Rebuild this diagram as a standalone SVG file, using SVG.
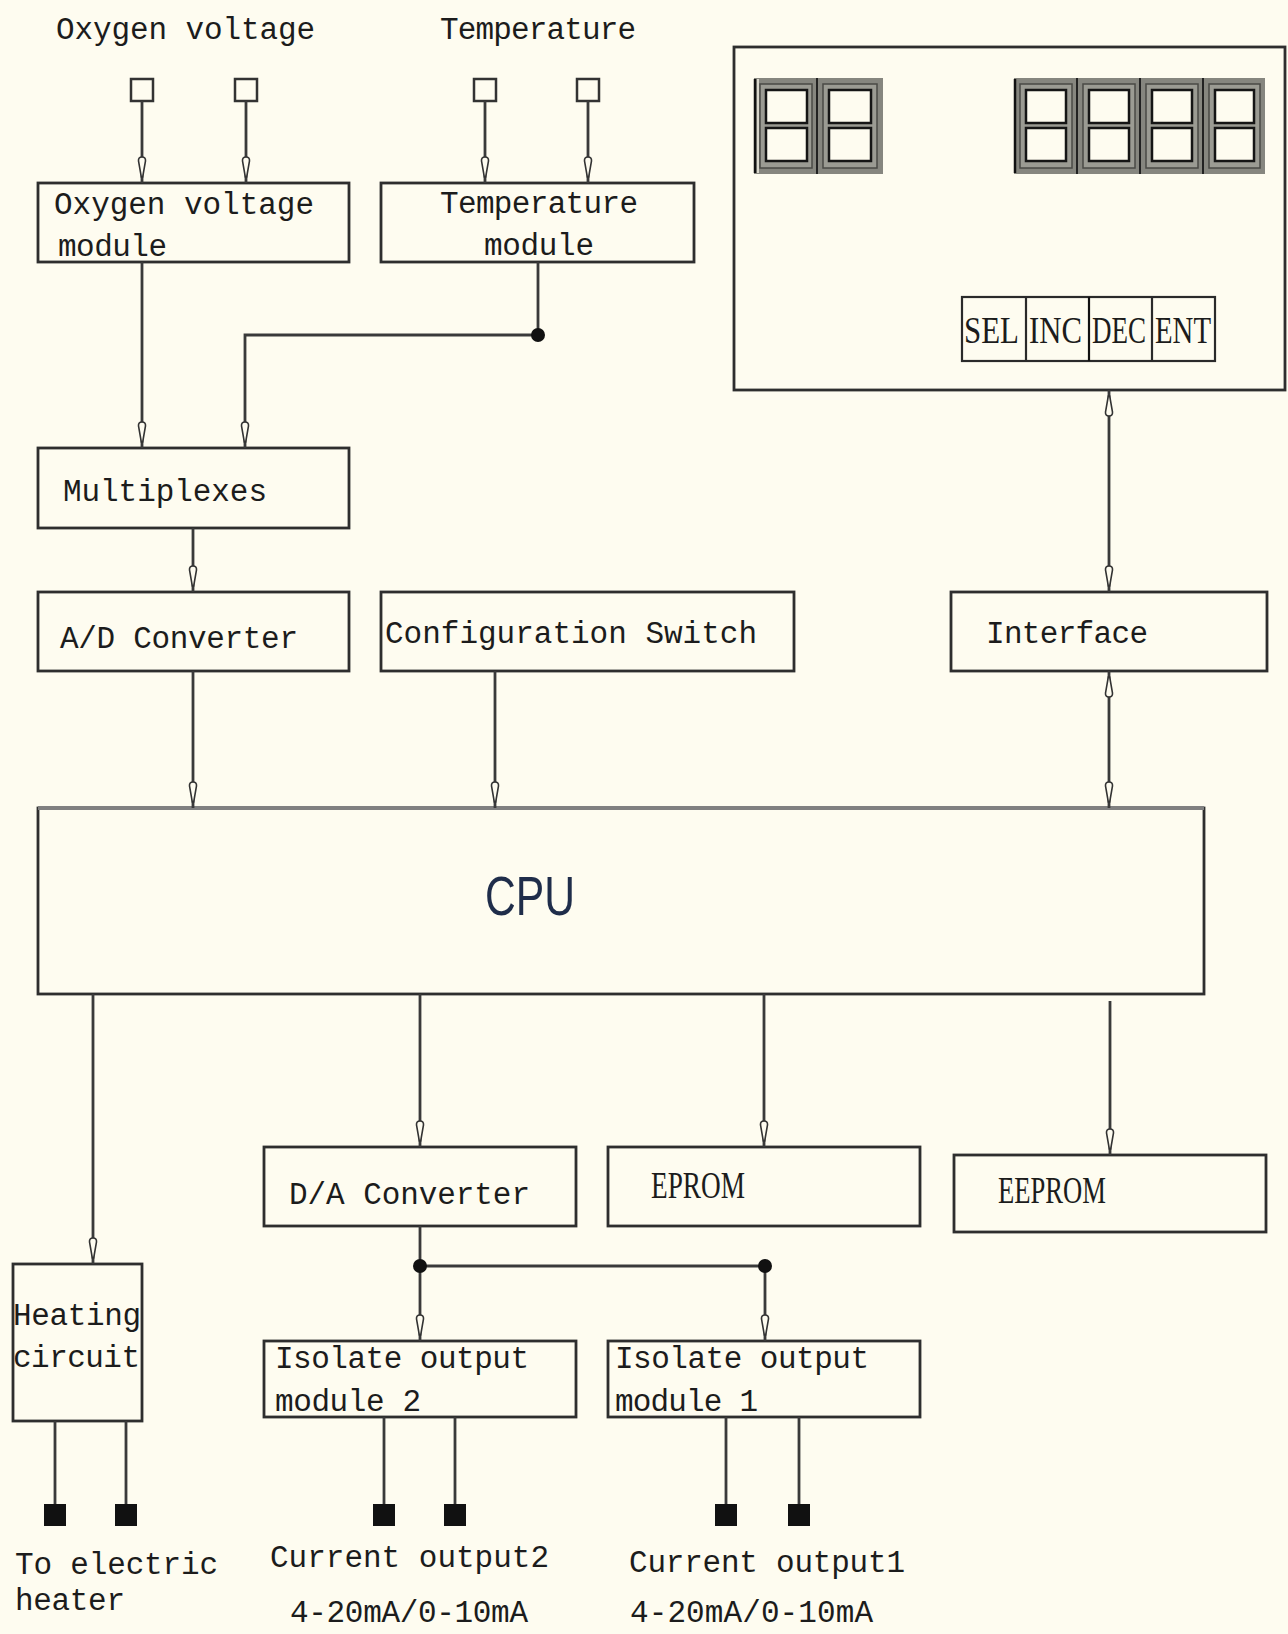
<svg xmlns="http://www.w3.org/2000/svg" width="1288" height="1634" viewBox="0 0 1288 1634">
<defs>
<style>
.bg{fill:#fefcf0}
.box{fill:none;stroke:#2e2e2e;stroke-width:2.8}
.t{font-family:"Liberation Mono","DejaVu Sans Mono",monospace;font-size:31px;fill:#1c1c1c}
.s{font-family:"Liberation Serif","DejaVu Serif",serif;font-size:38px;fill:#1c1c1c}
.b{font-family:"Liberation Serif","DejaVu Serif",serif;font-size:27px;fill:#1c1c1c}
.ln{fill:none;stroke:#3a3a3a;stroke-width:2.8}
.ln2{fill:none;stroke:#3a3a3a;stroke-width:2.8;marker-end:url(#arr)}
.bi{fill:none;stroke:#3a3a3a;stroke-width:2.8;marker-end:url(#arr);marker-start:url(#arr)}
.dot{fill:#111}
.tin{fill:#fefcf0;stroke:#333;stroke-width:2.5}
.tout{fill:#111}
.cell{fill:#86867f}
.bev{fill:#9b9b93;stroke:#4a4a46;stroke-width:1.5}
.pane{fill:#fefcf0;stroke:#151515;stroke-width:2.5}
</style>
<marker id="arr" viewBox="0 0 30 10" markerWidth="30" markerHeight="10" refX="29" refY="5" orient="auto-start-reverse" markerUnits="userSpaceOnUse">
<path d="M3,5 Q3,1.2 7,1.5 L23,4.3 L23,5.7 L7,8.5 Q3,8.8 3,5 Z" fill="#fefcf0" stroke="#333" stroke-width="1.6"/>
</marker>
</defs>
<rect class="bg" x="0" y="0" width="1288" height="1634"/>

<g id="labels-top">
<text class="t" x="56" y="39" textLength="259" lengthAdjust="spacing">Oxygen voltage</text>
<text class="t" x="440" y="39" textLength="196" lengthAdjust="spacing">Temperature</text>
</g>

<g id="terminals-in">
<rect class="tin" x="131" y="79" width="22" height="22"/>
<rect class="tin" x="235" y="79" width="22" height="22"/>
<rect class="tin" x="474" y="79" width="22" height="22"/>
<rect class="tin" x="577" y="79" width="22" height="22"/>
</g>

<g id="oxygen-module">
<rect class="box" x="38" y="183" width="311" height="79"/>
<text class="t" x="54" y="214" textLength="260" lengthAdjust="spacing">Oxygen voltage</text>
<text class="t" x="58" y="256" textLength="109" lengthAdjust="spacing">module</text>
</g>

<g id="temperature-module">
<rect class="box" x="381" y="183" width="313" height="79"/>
<text class="t" x="440" y="213" textLength="198" lengthAdjust="spacing">Temperature</text>
<text class="t" x="484" y="255" textLength="110" lengthAdjust="spacing">module</text>
</g>

<g id="display-panel">
<rect class="box" x="734" y="47" width="551" height="343"/>
<g id="digits-left">
<rect class="cell" x="754" y="78" width="129" height="96"/>
<line x1="755" y1="79" x2="755" y2="173" stroke="#111" stroke-width="2.5"/>
<line x1="758" y1="79" x2="758" y2="173" stroke="#f4f2e6" stroke-width="1.5"/>
<line x1="817" y1="78" x2="817" y2="174" stroke="#222" stroke-width="2"/>
<rect class="bev" x="760" y="84" width="52" height="84"/>
<rect class="pane" x="766" y="90" width="41" height="33"/>
<rect class="pane" x="766" y="128" width="41" height="33"/>
<rect class="bev" x="823" y="84" width="54" height="84"/>
<rect class="pane" x="829" y="90" width="42" height="33"/>
<rect class="pane" x="829" y="128" width="42" height="33"/>
</g>
<g id="digits-right">
<rect class="cell" x="1014" y="78" width="251" height="96"/>
<line x1="1015" y1="79" x2="1015" y2="173" stroke="#111" stroke-width="2.5"/>
<line x1="1077" y1="78" x2="1077" y2="174" stroke="#222" stroke-width="2"/>
<line x1="1140" y1="78" x2="1140" y2="174" stroke="#222" stroke-width="2"/>
<line x1="1203" y1="78" x2="1203" y2="174" stroke="#222" stroke-width="2"/>
<rect class="bev" x="1020" y="84" width="52" height="84"/>
<rect class="pane" x="1026" y="90" width="40" height="33"/>
<rect class="pane" x="1026" y="128" width="40" height="33"/>
<rect class="bev" x="1083" y="84" width="52" height="84"/>
<rect class="pane" x="1089" y="90" width="40" height="33"/>
<rect class="pane" x="1089" y="128" width="40" height="33"/>
<rect class="bev" x="1146" y="84" width="52" height="84"/>
<rect class="pane" x="1152" y="90" width="40" height="33"/>
<rect class="pane" x="1152" y="128" width="40" height="33"/>
<rect class="bev" x="1209" y="84" width="51" height="84"/>
<rect class="pane" x="1215" y="90" width="39" height="33"/>
<rect class="pane" x="1215" y="128" width="39" height="33"/>
</g>
<g id="buttons">
<rect x="962" y="297" width="253" height="64" fill="none" stroke="#2a2a2a" stroke-width="2.2"/>
<line x1="1026" y1="297" x2="1026" y2="361" stroke="#2a2a2a" stroke-width="2.2"/>
<line x1="1089" y1="297" x2="1089" y2="361" stroke="#111" stroke-width="2.2"/>
<line x1="1152" y1="297" x2="1152" y2="361" stroke="#2a2a2a" stroke-width="2.2"/>
<text class="b" transform="translate(964,343) scale(1,1.38)" textLength="55" lengthAdjust="spacingAndGlyphs">SEL</text>
<text class="b" transform="translate(1029,343) scale(1,1.38)" textLength="53" lengthAdjust="spacingAndGlyphs">INC</text>
<text class="b" transform="translate(1092,343) scale(1,1.38)" textLength="54" lengthAdjust="spacingAndGlyphs">DEC</text>
<text class="b" transform="translate(1155,343) scale(1,1.38)" textLength="56" lengthAdjust="spacingAndGlyphs">ENT</text>
</g>
</g>

<g id="multiplexes">
<rect class="box" x="38" y="448" width="311" height="80"/>
<text class="t" x="63" y="501" textLength="204" lengthAdjust="spacing">Multiplexes</text>
</g>

<g id="ad-converter">
<rect class="box" x="38" y="592" width="311" height="79"/>
<text class="t" x="60" y="648" textLength="238" lengthAdjust="spacing">A/D Converter</text>
</g>

<g id="config-switch">
<rect class="box" x="381" y="592" width="413" height="79"/>
<text class="t" x="385" y="643" textLength="372" lengthAdjust="spacing">Configuration Switch</text>
</g>

<g id="interface">
<rect class="box" x="951" y="592" width="316" height="79"/>
<text class="t" x="986" y="643" textLength="162" lengthAdjust="spacing">Interface</text>
</g>

<g id="cpu">
<rect class="box" x="38" y="808" width="1166" height="186"/>
<line x1="38" y1="808" x2="1204" y2="808" stroke="#808080" stroke-width="4"/>
<text x="485" y="915" font-family="Liberation Sans, Arial, sans-serif" font-size="56" fill="#1f2d4a" textLength="90" lengthAdjust="spacingAndGlyphs">CPU</text>
</g>

<g id="heating-circuit">
<rect class="box" x="13" y="1264" width="129" height="157"/>
<text class="t" x="13" y="1325" textLength="128" lengthAdjust="spacing">Heating</text>
<text class="t" x="13" y="1367" textLength="127" lengthAdjust="spacing">circuit</text>
</g>

<g id="da-converter">
<rect class="box" x="264" y="1147" width="312" height="79"/>
<text class="t" x="289" y="1204" textLength="241" lengthAdjust="spacing">D/A Converter</text>
</g>

<g id="eprom">
<rect class="box" x="608" y="1147" width="312" height="79"/>
<text class="s" x="651" y="1198" textLength="94" lengthAdjust="spacingAndGlyphs">EPROM</text>
</g>

<g id="eeprom">
<rect class="box" x="954" y="1155" width="312" height="77"/>
<text class="s" x="998" y="1203" textLength="108" lengthAdjust="spacingAndGlyphs">EEPROM</text>
</g>

<g id="isolate-2">
<rect class="box" x="264" y="1341" width="312" height="76"/>
<text class="t" x="275" y="1368" textLength="254" lengthAdjust="spacing">Isolate output</text>
<text class="t" x="275" y="1411" textLength="146" lengthAdjust="spacing">module 2</text>
</g>

<g id="isolate-1">
<rect class="box" x="608" y="1341" width="312" height="76"/>
<text class="t" x="615" y="1368" textLength="254" lengthAdjust="spacing">Isolate output</text>
<text class="t" x="615" y="1411" textLength="143" lengthAdjust="spacing">module 1</text>
</g>

<g id="terminals-out">
<rect class="tout" x="44" y="1504" width="22" height="22"/>
<rect class="tout" x="115" y="1504" width="22" height="22"/>
<rect class="tout" x="373" y="1504" width="22" height="22"/>
<rect class="tout" x="444" y="1504" width="22" height="22"/>
<rect class="tout" x="715" y="1504" width="22" height="22"/>
<rect class="tout" x="788" y="1504" width="22" height="22"/>
</g>

<g id="labels-bottom">
<text class="t" x="15" y="1574" textLength="203" lengthAdjust="spacing">To electric</text>
<text class="t" x="15" y="1610" textLength="110" lengthAdjust="spacing">heater</text>
<text class="t" x="270" y="1567" textLength="279" lengthAdjust="spacing">Current output2</text>
<text class="t" x="290" y="1622" textLength="238" lengthAdjust="spacing">4-20mA/0-10mA</text>
<text class="t" x="629" y="1572" textLength="276" lengthAdjust="spacing">Current output1</text>
<text class="t" x="630" y="1622" textLength="243" lengthAdjust="spacing">4-20mA/0-10mA</text>
</g>

<g id="connectors">
<path class="ln2" d="M142,101 V183"/>
<path class="ln2" d="M246,101 V183"/>
<path class="ln2" d="M485,101 V183"/>
<path class="ln2" d="M588,101 V183"/>
<path class="ln2" d="M142,262 V448"/>
<path class="ln" d="M538,262 V335"/>
<path class="ln2" d="M538,335 H245 V448"/>
<path class="ln2" d="M193,528 V592"/>
<path class="ln2" d="M193,671 V808"/>
<path class="ln2" d="M495,671 V808"/>
<path class="bi" d="M1109,390 V592"/>
<path class="bi" d="M1109,671 V808"/>
<path class="ln2" d="M93,994 V1264"/>
<path class="ln2" d="M420,994 V1147"/>
<path class="ln2" d="M764,994 V1147"/>
<path class="ln2" d="M1110,1001 V1155"/>
<path class="ln2" d="M420,1226 V1341"/>
<path class="ln2" d="M420,1266 H765 V1341"/>
<path class="ln" d="M55,1421 V1504"/>
<path class="ln" d="M126,1421 V1504"/>
<path class="ln" d="M384,1417 V1504"/>
<path class="ln" d="M455,1417 V1504"/>
<path class="ln" d="M726,1417 V1504"/>
<path class="ln" d="M799,1417 V1504"/>
<circle class="dot" cx="538" cy="335" r="7"/>
<circle class="dot" cx="420" cy="1266" r="7"/>
<circle class="dot" cx="765" cy="1266" r="7"/>
</g>
</svg>
